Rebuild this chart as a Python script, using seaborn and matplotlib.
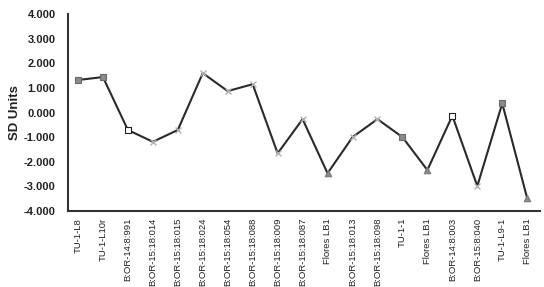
import matplotlib
matplotlib.use("Agg")
import matplotlib.pyplot as plt
import seaborn as sns
import pandas as pd
import numpy as np

labels = ["TU-1-L8", "TU-1-L10r", "B:OR-14:8:991", "B:OR-15:18:014", "B:OR-15:18:015",
          "B:OR-15:18:024", "B:OR-15:18:054", "B:OR-15:18:088", "B:OR-15:18:009",
          "B:OR-15:18:087", "Flores LB1", "B:OR-15:18:013", "B:OR-15:18:098", "TU-1-1",
          "Flores LB1", "B:OR-14:8:003", "B:OR-15:8:040", "TU-1-L9-1", "Flores LB1"]
values = [1.32, 1.44, -0.71, -1.19, -0.71, 1.60, 0.87, 1.15, -1.66, -0.27,
          -2.47, -1.00, -0.27, -1.00, -2.34, -0.13, -2.99, 0.37, -3.49]
kinds = ["sq", "sq", "open", "x", "x", "x", "x", "x", "x", "x",
         "tri", "x", "x", "sq", "tri", "open", "x", "sq", "tri"]
yticks = [4, 3, 2, 1, 0, -1, -2, -3, -4]

df = pd.DataFrame({"pos": np.arange(len(values)), "value": values, "kind": kinds})

sns.set_style("white")
plt.rcParams["font.family"] = ["Liberation Sans", "DejaVu Sans"]

fig = plt.figure(figsize=(5.44, 2.87), dpi=100)
ax = fig.add_axes([0.125, 0.265, 0.868, 0.686])

sns.lineplot(data=df, x="pos", y="value", sort=False, color="#2a2a2a", linewidth=1.5, ax=ax, zorder=2)

styles = {
    "sq": dict(marker="s", color="#8a8a8a", edgecolor="#6a6a6a", s=22),
    "open": dict(marker="s", color="white", edgecolor="#222222", s=22),
    "x": dict(marker="x", color="#b0b0b0", s=18),
    "tri": dict(marker="^", color="#8a8a8a", edgecolor="#7a7a7a", s=22),
}
for k, st in styles.items():
    sub = df[df["kind"] == k]
    sns.scatterplot(data=sub, x="pos", y="value", ax=ax, zorder=3,
                    linewidth=0.8 if k != "x" else 1.0, **st)

ax.set_xlim(-0.4, 18.52)
ax.set_ylim(-4, 4)
ax.set_yticks(yticks)
ax.set_yticklabels([f"{v:.3f}" for v in yticks], fontsize=8, fontweight="bold", color="#222222")
ax.set_xticks(df["pos"])
ax.set_xticklabels(labels, rotation=90, fontsize=6.8, color="#222222")
ax.tick_params(axis="x", length=0, pad=5)
ax.tick_params(axis="y", length=0, pad=9)
ax.set_xlabel("")
ax.set_ylabel("SD Units", fontsize=9.5, fontweight="bold", color="#222222", labelpad=2)
for s in ["top", "right"]:
    ax.spines[s].set_visible(False)
for s in ["left", "bottom"]:
    ax.spines[s].set_color("#333333")
    ax.spines[s].set_linewidth(1.5)

fig.savefig("out.png", dpi=100)
